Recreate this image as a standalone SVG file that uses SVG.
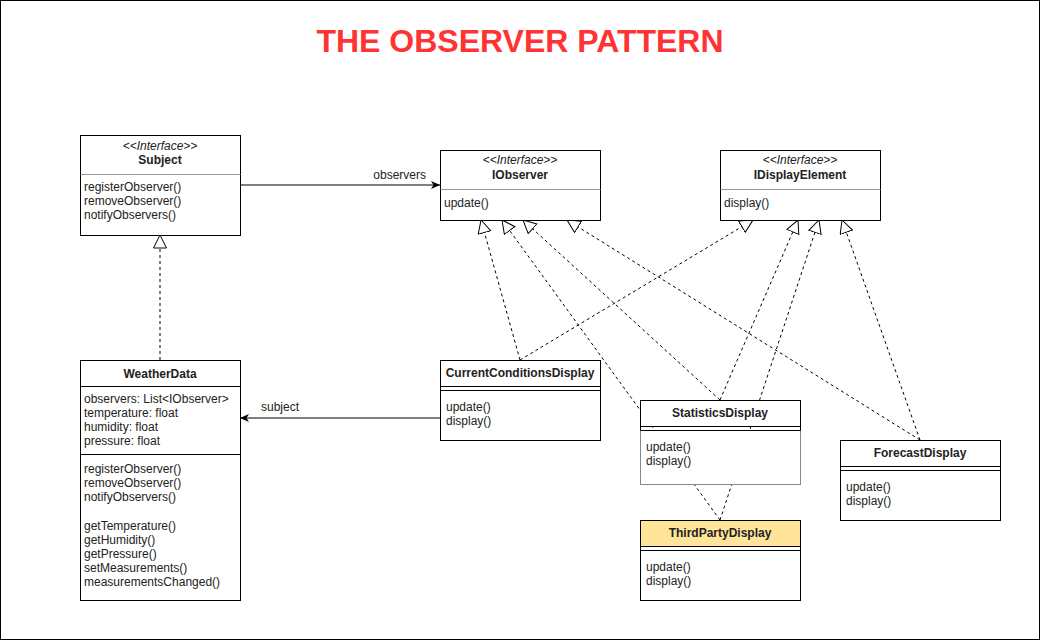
<svg xmlns="http://www.w3.org/2000/svg" width="1041" height="642" viewBox="0 0 1041 642">
<style>
  text { font-family: "Liberation Sans", Arial, sans-serif; font-size: 12px; fill: #222; }
  .title { font-size: 32px; font-weight: bold; fill: #FF3333; }
  .name { font-weight: bold; text-anchor: middle; }
  .stereo { font-style: italic; text-anchor: middle; }
  .box { fill: #fff; stroke: #000; stroke-width: 1; }
  .sep { stroke: #000; stroke-width: 1; }
  .gsep { stroke: #999; stroke-width: 1; }
  .assoc { stroke: #000; stroke-width: 1; fill: none; marker-end: url(#classic); }
  .real { stroke: #000; stroke-width: 1; fill: none; stroke-dasharray: 3 3; marker-end: url(#tri); }
</style>
<defs>
  <marker id="classic" markerUnits="userSpaceOnUse" markerWidth="10" markerHeight="9" refX="9" refY="4" orient="auto">
    <path d="M0,0 L9,4 L0,8 L2.5,4 z" fill="#000"/>
  </marker>
  <marker id="tri" markerUnits="userSpaceOnUse" markerWidth="16" markerHeight="16" refX="13.5" refY="7" orient="auto">
    <path d="M0.5,0.5 L13.5,7 L0.5,13.5 z" fill="#fff" stroke="#000" stroke-width="1"/>
  </marker>
</defs>
<rect x="0.5" y="0.5" width="1039" height="639" fill="#fff" stroke="#000"/>
<text class="title" x="520" y="52" text-anchor="middle">THE OBSERVER PATTERN</text>

<g id="connectors">
  <line class="assoc" x1="240" y1="185" x2="440" y2="185"/>
  <text x="426" y="179" text-anchor="end">observers</text>
  <line class="assoc" x1="440" y1="418" x2="240" y2="418"/>
  <text x="261" y="411">subject</text>
  <line class="real" x1="160" y1="360" x2="160" y2="235"/>
  <line class="real" x1="520" y1="360" x2="481" y2="220"/>
  <line class="real" x1="720" y1="520" x2="502" y2="220"/>
  <line class="real" x1="720" y1="400" x2="523" y2="220"/>
  <line class="real" x1="920" y1="440" x2="567" y2="220"/>
  <line class="real" x1="520" y1="360" x2="753" y2="220"/>
  <line class="real" x1="720" y1="400" x2="798" y2="220"/>
  <line class="real" x1="720" y1="520" x2="819" y2="220"/>
  <line class="real" x1="920" y1="440" x2="842" y2="220"/>
</g>

<g id="subject">
  <rect class="box" x="80.5" y="135.5" width="160" height="100"/>
  <line class="gsep" x1="80.5" y1="174.5" x2="240.5" y2="174.5"/>
  <text class="stereo" x="160" y="150">&lt;&lt;Interface&gt;&gt;</text>
  <text class="name" x="160" y="164">Subject</text>
  <text x="84" y="191">registerObserver()</text>
  <text x="84" y="205">removeObserver()</text>
  <text x="84" y="219">notifyObservers()</text>
</g>

<g id="iobserver">
  <rect class="box" x="440.5" y="150.5" width="160" height="70"/>
  <line class="gsep" x1="440.5" y1="189.5" x2="600.5" y2="189.5"/>
  <text class="stereo" x="520" y="164">&lt;&lt;Interface&gt;&gt;</text>
  <text class="name" x="520" y="179">IObserver</text>
  <text x="444" y="207">update()</text>
</g>

<g id="idisplayelement">
  <rect class="box" x="720.5" y="150.5" width="160" height="70"/>
  <line class="gsep" x1="720.5" y1="189.5" x2="880.5" y2="189.5"/>
  <text class="stereo" x="800" y="164">&lt;&lt;Interface&gt;&gt;</text>
  <text class="name" x="800" y="179">IDisplayElement</text>
  <text x="724" y="207">display()</text>
</g>

<g id="weatherdata">
  <rect class="box" x="80.5" y="360.5" width="160" height="240"/>
  <line class="sep" x1="80.5" y1="386.5" x2="240.5" y2="386.5"/>
  <line class="sep" x1="80.5" y1="454.5" x2="240.5" y2="454.5"/>
  <text class="name" x="160" y="378">WeatherData</text>
  <text x="84" y="403">observers: List&lt;IObserver&gt;</text>
  <text x="84" y="417">temperature: float</text>
  <text x="84" y="431">humidity: float</text>
  <text x="84" y="445">pressure: float</text>
  <text x="84" y="473">registerObserver()</text>
  <text x="84" y="487">removeObserver()</text>
  <text x="84" y="501">notifyObservers()</text>
  <text x="84" y="530">getTemperature()</text>
  <text x="84" y="544">getHumidity()</text>
  <text x="84" y="558">getPressure()</text>
  <text x="84" y="572">setMeasurements()</text>
  <text x="84" y="586">measurementsChanged()</text>
</g>

<g id="currentconditionsdisplay">
  <rect class="box" x="440.5" y="360.5" width="160" height="80"/>
  <line class="sep" x1="440.5" y1="386.5" x2="600.5" y2="386.5"/>
  <line class="sep" x1="440.5" y1="390.5" x2="600.5" y2="390.5"/>
  <text class="name" x="520" y="377">CurrentConditionsDisplay</text>
  <text x="446" y="411">update()</text>
  <text x="446" y="425">display()</text>
</g>

<g id="statisticsdisplay">
  <rect x="640.5" y="400.5" width="160" height="26" fill="#fff" stroke="#000"/>
  <rect x="640.5" y="430.5" width="160" height="54" fill="#fff" stroke="#888"/>
  <line class="sep" x1="640.5" y1="430.5" x2="800.5" y2="430.5"/>
  <line x1="640.5" y1="426.5" x2="640.5" y2="430.5" stroke="#000"/>
  <line x1="800.5" y1="426.5" x2="800.5" y2="430.5" stroke="#000"/>
  <text class="name" x="720" y="417">StatisticsDisplay</text>
  <text x="646" y="451">update()</text>
  <text x="646" y="465">display()</text>
</g>

<g id="forecastdisplay">
  <rect class="box" x="840.5" y="440.5" width="160" height="80"/>
  <line class="sep" x1="840.5" y1="466.5" x2="1000.5" y2="466.5"/>
  <line class="sep" x1="840.5" y1="470.5" x2="1000.5" y2="470.5"/>
  <text class="name" x="920" y="457">ForecastDisplay</text>
  <text x="846" y="491">update()</text>
  <text x="846" y="505">display()</text>
</g>

<g id="thirdpartydisplay">
  <rect class="box" x="640.5" y="520.5" width="160" height="80"/>
  <rect x="640.5" y="520.5" width="160" height="26" fill="#FFE599" stroke="#000"/>
  <line class="sep" x1="640.5" y1="550.5" x2="800.5" y2="550.5"/>
  <text class="name" x="720" y="537">ThirdPartyDisplay</text>
  <text x="646" y="571">update()</text>
  <text x="646" y="585">display()</text>
</g>
</svg>
